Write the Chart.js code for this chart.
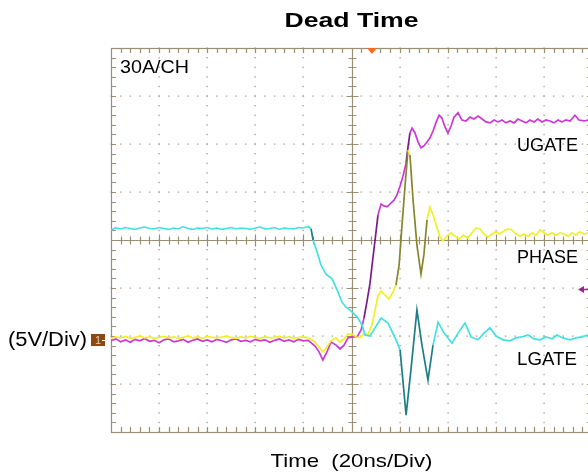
<!DOCTYPE html>
<html>
<head>
<meta charset="utf-8">
<script src="https://cdn.jsdelivr.net/npm/chart.js@4.4.1/dist/chart.umd.min.js"></script>
<style>
  html, body { margin: 0; padding: 0; background: #fff; overflow: hidden; }
  #scope { display: block; }
</style>
</head>
<body>
<canvas id="scope" width="600" height="476"></canvas>
<script>
// time axis in ns (20 ns/div), vertical axis in divisions
var idleTimes = [0, 2, 4, 6, 8, 10, 12, 14, 16, 18, 20, 22, 24, 26, 28, 30, 32, 34, 36, 38, 40,
  42, 44, 46, 48, 50, 52, 54, 56, 58, 60, 62, 64, 66, 68, 70, 72, 74, 76, 78, 80, 82];

var lgateIdle = [0.21, 0.25, 0.23, 0.26, 0.24, 0.22, 0.25, 0.27, 0.24, 0.23, 0.26, 0.24, 0.22, 0.25,
  0.23, 0.28, 0.24, 0.22, 0.25, 0.24, 0.26, 0.23, 0.25, 0.22, 0.24, 0.26, 0.23, 0.25, 0.24, 0.22,
  0.25, 0.27, 0.23, 0.24, 0.26, 0.22, 0.25, 0.24, 0.23, 0.26, 0.25, 0.28];
var ugateIdle = [-2.10, -2.06, -2.12, -2.08, -2.13, -2.07, -2.10, -2.05, -2.11, -2.09, -2.14, -2.08,
  -2.06, -2.12, -2.10, -2.07, -2.13, -2.09, -2.06, -2.11, -2.08, -2.12, -2.07, -2.10, -2.13, -2.08,
  -2.06, -2.11, -2.09, -2.12, -2.07, -2.10, -2.08, -2.13, -2.09, -2.06, -2.11, -2.08, -2.12, -2.07,
  -2.10, -2.09];
var phaseIdle = [-2.05, -2.02, -2.04, -2.01, -2.05, -2.03, -2.00, -2.04, -2.02, -2.05, -2.03, -2.01,
  -2.04, -2.02, -2.05, -2.03, -2.00, -2.04, -2.02, -2.05, -2.01, -2.03, -2.04, -2.02, -2.00, -2.03,
  -2.05, -2.02, -2.04, -2.01, -2.03, -2.05, -2.02, -2.04, -2.03, -2.01, -2.04, -2.02, -2.05, -2.03,
  -2.02, -2.04];

var lgateTimes = [83.2, 84.0, 85.7, 87.3, 89.4, 91.9, 94.0, 96.0, 97.7, 99.4, 102.3, 104.4, 105.6,
  107.7, 109.8, 112.3, 115.2, 118.5, 120.2, 122.7, 124.7, 127.2, 129.3, 131.8, 133.9, 136.0, 138.5,
  141.8, 144.3, 147.2, 149.7, 152.6, 155.1, 157.6, 160.1, 163.0, 165.9, 168.4, 170.9, 173.4, 175.9,
  178.4, 180.9, 183.4, 185.4, 187.9, 190.9, 193.3, 195.8, 198.3, 200];
var lgateEdge = [0.23, 0.0, -0.25, -0.52, -0.71, -0.81, -1.04, -1.29, -1.40, -1.46, -1.60, -1.77,
  -1.98, -2.0, -1.83, -1.625, -1.73, -2.08, -2.29, -3.65, -2.71, -1.46, -2.19, -2.92, -2.19, -1.71,
  -1.94, -2.15, -1.94, -1.73, -2.02, -2.08, -1.94, -1.83, -2.0, -2.08, -2.1, -2.04, -2.02, -1.98,
  -2.06, -2.08, -2.02, -2.06, -1.98, -2.04, -2.08, -2.04, -2.02, -1.98, -1.98];

var ugateTimes = [84.8, 86.5, 88.1, 89.8, 91.5, 93.6, 95.2, 96.9, 98.5, 100.6, 102.3, 104.0, 105.2,
  106.4, 107.7, 108.9, 110.2, 111.0, 112.3, 113.5, 114.8, 116.0, 117.7, 118.9, 120.2, 121.4, 122.7,
  123.5, 124.3, 125.2, 126.4, 127.7, 128.9, 130.1, 131.4, 132.6, 133.9, 135.1, 136.4, 137.6, 138.9,
  140.1, 141.4, 142.6, 144.3, 145.9, 147.6, 149.3, 150.9, 152.6, 154.3, 155.9, 157.6, 159.3, 160.9,
  162.6, 164.2, 165.9, 167.6, 169.2, 170.9, 172.6, 174.2, 175.9, 177.5, 179.2, 180.9, 182.5, 184.2,
  185.9, 187.5, 189.2, 190.9, 192.9, 194.6, 196.7, 198.3, 200];
var ugateEdge = [-2.21, -2.33, -2.5, -2.33, -2.125, -2.19, -2.27, -2.19, -2.04, -2.02, -2.02, -1.875,
  -1.625, -1.29, -0.90, -0.375, 0.17, 0.52, 0.75, 0.71, 0.69, 0.75, 0.83, 0.94, 1.125, 1.33, 1.60,
  1.94, 2.23, 2.33, 2.23, 2.04, 1.92, 1.96, 2.04, 2.125, 2.27, 2.44, 2.60, 2.54, 2.35, 2.23, 2.375,
  2.56, 2.65, 2.5, 2.48, 2.56, 2.52, 2.58, 2.52, 2.46, 2.44, 2.5, 2.46, 2.5, 2.44, 2.48, 2.44, 2.52,
  2.48, 2.44, 2.5, 2.46, 2.52, 2.46, 2.5, 2.48, 2.44, 2.5, 2.46, 2.5, 2.48, 2.60, 2.5, 2.48, 2.5, 2.48];

var phaseTimes = [84.8, 86.5, 88.1, 89.8, 91.5, 93.6, 95.2, 96.9, 98.5, 100.2, 101.9, 103.5, 105.2,
  106.9, 108.5, 109.8, 111.0, 112.3, 113.9, 115.6, 117.3, 118.5, 119.8, 121.0, 122.3, 123.5, 124.3,
  125.6, 127.2, 128.9, 130.1, 131.4, 132.6, 133.9, 135.6, 136.8, 138.0, 139.7, 141.4, 143.0, 144.7,
  146.4, 148.4, 150.1, 151.8, 153.4, 155.1, 156.8, 158.4, 160.1, 161.7, 163.4, 165.1, 166.7, 168.4,
  170.1, 171.7, 173.4, 175.1, 176.7, 178.4, 180.0, 181.7, 183.4, 185.0, 186.7, 188.4, 190.0, 191.7,
  193.3, 195.0, 196.7, 198.3, 200];
var phaseEdge = [-2.125, -2.23, -2.33, -2.23, -2.10, -2.04, -2.125, -2.06, -1.96, -1.96, -2.02, -2.04,
  -1.96, -1.96, -1.77, -1.46, -1.17, -1.06, -1.15, -1.23, -1.08, -0.94, -0.52, 0.31, 1.15, 1.875, 1.77,
  0.83, -0.10, -0.71, -0.31, 0.42, 0.69, 0.52, 0.25, 0.06, -0.02, 0.08, 0.15, 0.08, 0.02, 0.10, 0.04,
  0.15, 0.25, 0.23, 0.125, 0.06, 0.125, 0.17, 0.125, 0.19, 0.23, 0.21, 0.125, 0.08, 0.125, 0.08, 0.15,
  0.10, 0.21, 0.15, 0.10, 0.15, 0.10, 0.15, 0.125, 0.08, 0.15, 0.10, 0.17, 0.125, 0.15, 0.15];

var traceNames = ['LGATE', 'PHASE', 'UGATE'];

function toPoints(t1, v1, t2, v2) {
  var pts = [];
  for (var i = 0; i < t1.length; i++) pts.push({ x: t1[i], y: v1[i] });
  for (var j = 0; j < t2.length; j++) pts.push({ x: t2[j], y: v2[j] });
  return pts;
}

// steep edges look dimmer on the scope
function edgeColor(light, dark) {
  return function (ctx) {
    var dx = Math.abs(ctx.p1.x - ctx.p0.x) || 0.01;
    var dy = Math.abs(ctx.p1.y - ctx.p0.y);
    return dy / dx > 5 ? dark : light;
  };
}

function trace(name, pts, light, dark, order) {
  return {
    label: name,
    data: pts,
    borderColor: light,
    borderWidth: 1.7,
    pointRadius: 0,
    tension: 0,
    order: order,
    segment: { borderColor: edgeColor(light, dark) }
  };
}

function drawText(ctx, text, x, y, font, align, width) {
  ctx.save();
  ctx.font = font;
  ctx.textBaseline = 'middle';
  ctx.fillStyle = '#000';
  var w = ctx.measureText(text).width;
  var sx = width ? width / w : 1;
  var left = align === 'center' ? x - w * sx / 2 : x;
  ctx.translate(left, y);
  ctx.scale(sx, 1);
  ctx.textAlign = 'left';
  ctx.fillText(text, 0, 0);
  ctx.restore();
}

var scopeGrid = {
  id: 'scopeGrid',
  beforeDatasetsDraw: function (chart) {
    var ctx = chart.ctx, a = chart.chartArea;
    var xs = chart.scales.x, ys = chart.scales.y;
    var i, k, p;
    ctx.save();
    // dotted graticule
    ctx.fillStyle = '#b3a78c';
    for (i = 1; i < 10; i++) {
      if (i === 5) continue;
      p = Math.round(xs.getPixelForValue(i * 20));
      for (k = 0; k <= 40; k++) {
        var yy = ys.getPixelForValue(-4 + k * 0.2);
        ctx.fillRect(p - 0.6, yy - 0.6, 1.4, 1.4);
      }
    }
    for (i = -3; i <= 3; i++) {
      if (i === 0) continue;
      p = Math.round(ys.getPixelForValue(i));
      for (k = 0; k <= 50; k++) {
        var xx = xs.getPixelForValue(k * 4);
        ctx.fillRect(xx - 0.6, p - 0.6, 1.4, 1.4);
      }
    }
    // frame and centre cross
    ctx.strokeStyle = '#9c8e70';
    ctx.lineWidth = 1.2;
    ctx.strokeRect(a.left + 0.5, a.top + 0.5, a.right - a.left, a.bottom - a.top);
    var cx = Math.round(xs.getPixelForValue(100)) + 0.5;
    var cy = Math.round(ys.getPixelForValue(0)) + 0.5;
    ctx.beginPath();
    ctx.moveTo(cx, a.top); ctx.lineTo(cx, a.bottom);
    ctx.moveTo(a.left, cy); ctx.lineTo(a.right, cy);
    for (k = 1; k < 50; k++) {
      var tx = Math.round(xs.getPixelForValue(k * 4)) + 0.5;
      var len = k % 5 === 0 ? 6 : 4;
      ctx.moveTo(tx, a.top); ctx.lineTo(tx, a.top + 5);
      ctx.moveTo(tx, a.bottom); ctx.lineTo(tx, a.bottom - 5);
      ctx.moveTo(tx, cy - len); ctx.lineTo(tx, cy + len);
    }
    for (k = 1; k < 40; k++) {
      var ty = Math.round(ys.getPixelForValue(-4 + k * 0.2)) + 0.5;
      var len2 = k % 5 === 0 ? 6 : 4;
      ctx.moveTo(a.left, ty); ctx.lineTo(a.left + 5, ty);
      ctx.moveTo(a.right, ty); ctx.lineTo(a.right - 5, ty);
      ctx.moveTo(cx - len2, ty); ctx.lineTo(cx + len2, ty);
    }
    ctx.stroke();
    ctx.restore();
  },
  afterDraw: function (chart) {
    var ctx = chart.ctx, a = chart.chartArea;
    var xs = chart.scales.x, ys = chart.scales.y;
    var cx = xs.getPixelForValue(100);
    drawText(ctx, 'Dead Time', cx, 21, 'bold 20px "Liberation Sans", Arial, sans-serif', 'center', 134);
    drawText(ctx, 'Time  (20ns/Div)', cx, 462, '19px "Liberation Sans", Arial, sans-serif', 'center', 162);
    drawText(ctx, '(5V/Div)', 8, 340, '20px "Liberation Sans", Arial, sans-serif', 'left', 79);
    drawText(ctx, '30A/CH', a.left + 9, 68, '18px "Liberation Sans", Arial, sans-serif', 'left', 69);
    drawText(ctx, traceNames[2], 517, 146, '18px "Liberation Sans", Arial, sans-serif', 'left', 61);
    drawText(ctx, traceNames[1], 517, 258, '18px "Liberation Sans", Arial, sans-serif', 'left', 61);
    drawText(ctx, traceNames[0], 517, 360, '18px "Liberation Sans", Arial, sans-serif', 'left', 60);

    ctx.save();
    // channel 1 ground marker
    var gy = Math.round(ys.getPixelForValue(-2.08));
    ctx.fillStyle = '#8c4a12';
    ctx.fillRect(a.left - 20, gy - 6, 14, 12);
    ctx.fillStyle = '#e6cdb0';
    ctx.font = '11px "Liberation Sans", Arial, sans-serif';
    ctx.textBaseline = 'middle';
    ctx.fillText('1', a.left - 16, gy + 1);
    ctx.strokeStyle = '#ffffff';
    ctx.lineWidth = 1;
    ctx.beginPath();
    ctx.moveTo(a.left - 9, gy + 0.5); ctx.lineTo(a.left - 2, gy + 0.5);
    ctx.moveTo(a.left - 4, gy - 2); ctx.lineTo(a.left - 2, gy + 0.5); ctx.lineTo(a.left - 4, gy + 3);
    ctx.stroke();
    // trigger position marker
    var tx = xs.getPixelForValue(108.5);
    ctx.fillStyle = '#ff6a1c';
    ctx.beginPath();
    ctx.moveTo(tx - 5, a.top); ctx.lineTo(tx + 5, a.top); ctx.lineTo(tx, a.top + 6);
    ctx.closePath();
    ctx.fill();
    // trigger level marker
    var ly = Math.round(ys.getPixelForValue(-1.02)) + 0.5;
    ctx.strokeStyle = '#a0209c';
    ctx.fillStyle = '#a0209c';
    ctx.lineWidth = 1.5;
    ctx.beginPath();
    ctx.moveTo(582, ly); ctx.lineTo(592, ly);
    ctx.stroke();
    ctx.beginPath();
    ctx.moveTo(578, ly); ctx.lineTo(584, ly - 3.5); ctx.lineTo(584, ly + 3.5);
    ctx.closePath();
    ctx.fill();
    ctx.restore();
  }
};

var ctx = document.getElementById('scope').getContext('2d');
var scopeChart = new Chart(ctx, {
  type: 'line',
  data: {
    datasets: [
      trace(traceNames[0], toPoints(idleTimes, lgateIdle, lgateTimes, lgateEdge), '#45e0e0', '#1d7f82', 0),
      trace(traceNames[1], toPoints(idleTimes, phaseIdle, phaseTimes, phaseEdge), '#f0f028', '#86862c', 1),
      trace(traceNames[2], toPoints(idleTimes, ugateIdle, ugateTimes, ugateEdge), '#cc38d4', '#7a1c88', 2)
    ]
  },
  options: {
    responsive: false,
    animation: false,
    layout: { padding: { left: 111, top: 48, right: 8, bottom: 44 } },
    scales: {
      x: { type: 'linear', min: 0, max: 200, display: false },
      y: { type: 'linear', min: -4, max: 4, display: false }
    },
    plugins: {
      legend: { display: false },
      tooltip: { enabled: false }
    }
  },
  plugins: [scopeGrid]
});
</script>
</body>
</html>
